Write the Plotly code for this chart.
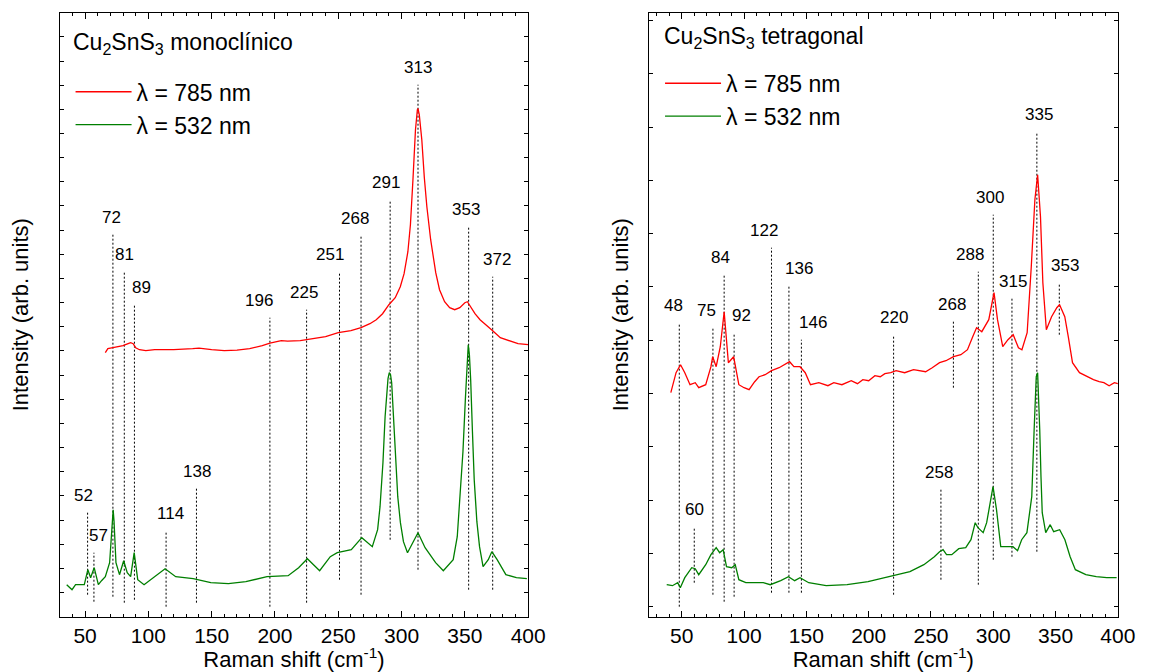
import plotly.graph_objects as go

# ---------------- Cu2SnS3 monoclinic ----------------
mono_785_x = [66, 68, 72, 76, 80, 84, 86, 88, 90, 93, 98, 105, 120, 135, 140, 150, 160, 170, 180, 190,
              196, 205, 210, 220, 232, 240, 250, 260, 268, 275, 280, 285, 290, 295, 299, 302, 305, 307,
              309, 311, 312.5, 313, 314, 316, 318, 320, 323, 327, 330, 334, 338, 342, 346, 350, 352,
              355, 358, 362, 367, 372, 378, 385, 392, 400]
mono_785_y = [264, 268, 269, 270, 271, 273, 274, 273, 269, 267, 266, 267, 267, 268, 268.5, 267, 266, 266.5,
              268, 271, 273.5, 276, 275.5, 276, 278, 280, 284, 286, 289, 293, 297, 303, 312, 319, 330, 343,
              365, 392, 437, 487, 507, 508, 502, 477, 439, 410, 377, 344, 327, 315, 309, 307, 309, 314,
              315, 309, 303, 297, 291, 286, 279, 276, 273, 272]

mono_532_x = [35.5, 39.7, 42.5, 49.4, 52.2, 54.4, 57.2, 60.5, 63, 66, 69.4, 70.8, 71.6, 72.2, 72.9, 73.6,
              74.4, 77.2, 80.5, 83.3, 86, 88.8, 91.6, 96.6, 104.9, 113.2, 121.6, 135.4, 149.3, 163.2, 177,
              193.7, 210.4, 218.7, 225.6, 232.6, 235.3, 243.7, 249.2, 260.3, 268.6, 276.9, 281.1, 283,
              285.3, 287, 288, 289.3, 290.3, 291.3, 292.2, 293.5, 295, 297, 299.1, 301.5, 304.7, 308.9,
              313, 318.6, 326.9, 333, 340.8, 344, 346.3, 348.5, 350.5, 351.8, 352.7, 353.6, 354.6, 356,
              357.4, 359.5, 361.6, 364.4, 368.5, 371.3, 375.5, 382.4, 390.7, 399]
mono_532_y = [32, 27, 32, 32, 47, 39, 49, 32, 36, 40, 54, 80, 100, 107, 95, 70, 54, 42, 56, 44, 40, 64,
              37, 32, 40, 48, 40, 38, 34, 33, 35, 40, 41, 49, 58, 49, 46, 60, 64, 67, 79, 70, 87, 110, 154,
              200, 220, 238, 244, 242, 234, 205, 160, 120, 94, 75, 64, 74, 84, 69, 54, 46, 57, 80, 120,
              165, 220, 255, 272, 262, 237, 185, 137, 95, 70, 50, 57, 65, 57, 42, 39, 38]

mono_peaks = [52, 57, 72, 81, 89, 114, 138, 196, 225, 251, 268, 291, 313, 353, 372]
mono_peak_top = [104, 64, 382, 345, 312, 86, 128, 299, 307, 345, 381, 417, 532, 390, 340]
mono_peak_bottom = [22, 15, 20, 14, 17, 10, 14, 10, 14, 37, 22, 77, 47, 27, 27]
mono_label_dx = [-4, 5, -1, 0, 7, 4, 1, -11, -3, -10, -6, -4, 0, -3, 4]

# ---------------- Cu2SnS3 tetragonal ----------------
tet_785_x = [41.2, 45.4, 49, 52.4, 56.6, 60.8, 63.6, 69.2, 73.4, 74.8, 77.6, 80.9, 84, 87.4, 91.6, 95.8,
             100, 104, 108.5, 112, 116.9, 122, 128.1, 132, 136.5, 140, 144.9, 149.1, 153.3, 160, 167.3,
             172, 178.5, 186, 191, 195.3, 200, 205, 209.3, 213, 217.7, 222, 228.9, 236, 245.7, 251,
             256.9, 262, 268.1, 274, 279.3, 283.5, 286.6, 290.8, 296.4, 300.6, 303.4, 307.6, 311.8,
             316, 320.2, 323, 327.2, 330.5, 333.4, 335.6, 337.9, 339.8, 342.6, 346.8, 351, 353.2, 357.4,
             360.2, 363.6, 369.2, 375, 380.4, 385, 388.8, 393, 397.2, 400]
tet_785_y = [224, 244, 252, 244, 232, 234, 229, 232, 250, 260, 250, 270, 305, 254, 260, 232, 229, 227,
             235, 240, 242, 246, 249, 252, 255, 250, 250, 244, 232, 234, 231, 234, 232, 236, 233, 237,
             236, 241, 240, 243, 244, 246, 244, 247, 245, 249, 254, 256, 260, 262, 267, 280, 289, 285,
             297, 324, 297, 270, 277, 282, 269, 267, 284, 350, 417, 442, 400, 334, 287, 300, 309, 312,
             300, 280, 254, 244, 240, 237, 235, 234, 231, 234, 233]

tet_532_x = [37.9, 42.5, 46.7, 48.8, 52.4, 58, 60.8, 63.6, 69.2, 73.4, 77.6, 80.4, 83.2, 85.9, 90.1, 92.9,
             95.8, 101.4, 115.4, 121, 129.4, 135.6, 140.6, 144.9, 151.9, 165.9, 182.7, 199.5, 216.3,
             233.1, 244.3, 252.7, 256.9, 259.7, 262.5, 266.7, 272.3, 277.9, 282.1, 285.5, 287.7, 291.9,
             294.7, 297.5, 299.8, 302.6, 306, 311.6, 315.8, 319.5, 322.8, 327, 330.9, 332.8, 334.5,
             335.6, 336.3, 337.3, 338.3, 339.3, 342.1, 345.7, 348.5, 353.3, 357.5, 361.7, 365.9, 374.3,
             382.7, 391.1, 399]
tet_532_y = [32, 31, 34, 29, 39, 49, 48, 42, 52, 62, 69, 64, 67, 50, 49, 52, 37, 34, 34, 32, 36, 40, 36,
             39, 34, 31, 32, 35, 40, 45, 52, 60, 65, 67, 62, 62, 68, 69, 77, 94, 89, 84, 94, 114, 130,
             107, 70, 70, 70, 66, 77, 84, 120, 187, 240, 244, 225, 187, 140, 104, 84, 92, 85, 87, 77, 60,
             47, 42, 40, 39, 39]

tet_peaks = [48, 60, 75, 84, 92, 122, 136, 146, 220, 258, 268, 288, 300, 315, 335, 353]
tet_peak_top = [294, 90, 289, 342, 284, 369, 331, 277, 282, 127, 295, 345, 402, 318, 485, 334]
tet_peak_bottom = [10, 34, 22, 15, 20, 24, 24, 24, 22, 37, 229, 32, 57, 60, 65, 282]
tet_label_dx = [-6, 0, -6, -4, 7, -7, 10, 12, 0, -2, -1, -8, -3, 1, 2, 6]

RED = "#ff0000"
GREEN = "#007f00"
FONT = "Arial, Liberation Sans, sans-serif"

fig = go.Figure()


def marker_lines(peaks, tops, bottoms):
    xs, ys = [], []
    for p, t, b in zip(peaks, tops, bottoms):
        xs += [p, p, None]
        ys += [b, t, None]
    return xs, ys


def add_panel(xa, ya, legend, red_x, red_y, green_x, green_y, peaks, tops, bottoms, dxs):
    lx, ly = marker_lines(peaks, tops, bottoms)
    fig.add_trace(go.Scatter(x=lx, y=ly, mode="lines", xaxis=xa, yaxis=ya, showlegend=False,
                             line=dict(color="black", width=1, dash="2px,2px"), hoverinfo="skip"))
    fig.add_trace(go.Scatter(x=red_x, y=red_y, mode="lines", name="\u03bb = 785 nm", xaxis=xa, yaxis=ya,
                             legend=legend, line=dict(color=RED, width=1.3)))
    fig.add_trace(go.Scatter(x=green_x, y=green_y, mode="lines", name="\u03bb = 532 nm", xaxis=xa, yaxis=ya,
                             legend=legend, line=dict(color=GREEN, width=1.3)))
    for p, t, dx in zip(peaks, tops, dxs):
        fig.add_annotation(x=p, y=t, xref=xa, yref=ya, text=str(p), showarrow=False,
                           xshift=dx, yshift=17, yanchor="middle",
                           font=dict(family=FONT, size=17, color="black"))


add_panel("x", "y", "legend", mono_785_x, mono_785_y, mono_532_x, mono_532_y,
          mono_peaks, mono_peak_top, mono_peak_bottom, mono_label_dx)
add_panel("x2", "y2", "legend2", tet_785_x, tet_785_y, tet_532_x, tet_532_y,
          tet_peaks, tet_peak_top, tet_peak_bottom, tet_label_dx)

xaxis_common = dict(
    showline=True, linecolor="black", linewidth=1.3, mirror="ticks",
    ticks="inside", ticklen=6, tickwidth=1, tickcolor="black", dtick=50, tick0=0,
    minor=dict(ticks="inside", ticklen=3, dtick=10, tick0=0, tickcolor="black"),
    showgrid=False, zeroline=False,
    tickfont=dict(family=FONT, size=21, color="black"),
    title=dict(text="Raman shift (cm<sup>-1</sup>)", font=dict(family=FONT, size=22, color="black"),
               standoff=2),
)
yaxis_common = dict(
    showline=True, linecolor="black", linewidth=1.3, mirror="ticks",
    ticks="inside", ticklen=4, tickwidth=1, tickcolor="black",
    showticklabels=False, showgrid=False, zeroline=False, range=[0, 604],
)
ytitle_font = dict(family=FONT, size=22, color="black")

legend_common = dict(xanchor="left", yanchor="top", bgcolor="rgba(0,0,0,0)", itemwidth=56,
                     font=dict(family=FONT, size=23, color="black"), tracegroupgap=0)

fig.update_layout(
    width=1156, height=672,
    margin=dict(l=0, r=0, t=0, b=0),
    paper_bgcolor="white", plot_bgcolor="white",
    font=dict(family=FONT, color="black"),
    xaxis=dict(xaxis_common, domain=[0.0525, 0.4641], range=[30, 400], anchor="y"),
    xaxis2=dict(xaxis_common, domain=[0.5701, 0.9823], range=[23.5, 400], anchor="y2"),
    yaxis=dict(yaxis_common, domain=[0.0823, 0.9811], tick0=0, dtick=24.16,
               title=dict(text="Intensity (arb. units)", font=ytitle_font, standoff=23)),
    yaxis2=dict(yaxis_common, domain=[0.0823, 0.9811], anchor="x2", tick0=10, dtick=53.3,
                title=dict(text="Intensity (arb. units)", font=ytitle_font, standoff=12)),
    legend=dict(legend_common, x=0.062, y=0.8954),
    legend2=dict(legend_common, x=0.580, y=0.908),
    showlegend=True,
)

fig.add_annotation(x=0.0625, y=0.936, xref="paper", yref="paper", xanchor="left", yanchor="middle",
                   showarrow=False, text="Cu<sub>2</sub>SnS<sub>3</sub> monoclínico",
                   font=dict(family=FONT, size=23, color="black"))
fig.add_annotation(x=0.5815, y=0.9435, xref="paper", yref="paper", xanchor="left", yanchor="middle",
                   showarrow=False, text="Cu<sub>2</sub>SnS<sub>3</sub> tetragonal",
                   font=dict(family=FONT, size=23, color="black"))

fig.write_html("out.html")
